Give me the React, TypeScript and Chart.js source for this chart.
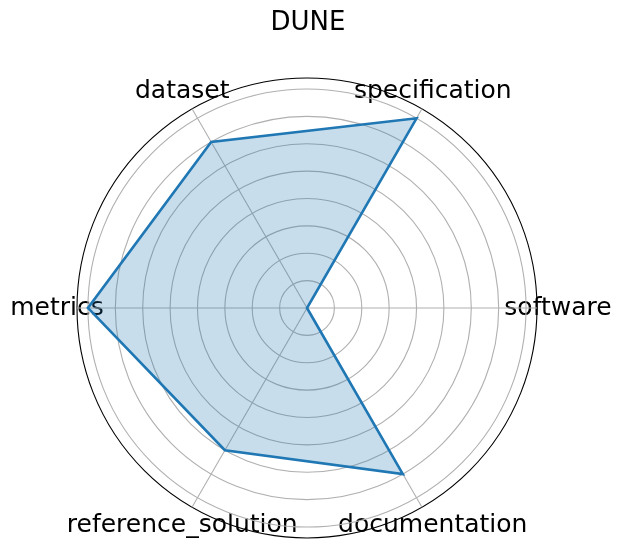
import React, { useEffect, useRef } from "react";
import { Chart, registerables } from "chart.js";

Chart.register(...registerables);

const TITLE = "DUNE";
// clockwise order starting from the right (matplotlib goes counter-clockwise from the right)
const categories = ["software", "documentation", "reference_solution", "metrics", "dataset", "specification"];
const values = [0, 7, 6, 8, 7, 8];
const ringValues = [0, 1, 2, 3, 4, 5, 6, 7, 8];
const R_MAX = 8.4;

const LABEL_FONT = 25;
const TITLE_FONT = 26;

const labelPlugin = {
  id: "mplLabels",
  beforeDraw(chart: any) {
    const ctx = chart.ctx;
    const scale = chart.scales.r;
    ctx.save();
    ctx.fillStyle = "#000000";
    ctx.textAlign = "center";
    ctx.textBaseline = "alphabetic";
    ctx.font = `${LABEL_FONT}px "DejaVu Sans"`;
    const labels = chart.data.labels as string[];
    labels.forEach((lab, i) => {
      const p = scale.getPointPosition(i, scale.drawingArea + 20.5);
      ctx.fillText(lab, p.x + 0.5, p.y + 0.5 + 0.26 * LABEL_FONT);
    });
    ctx.font = `${TITLE_FONT}px "DejaVu Sans"`;
    ctx.fillText(TITLE, scale.xCenter + 1, 29.5);
    ctx.restore();
  },
};

export default function App() {
  const ref = useRef<HTMLCanvasElement>(null);
  useEffect(() => {
    document.body.style.margin = "0";
    const chart = new Chart(ref.current!, {
      type: "radar",
      data: {
        labels: categories,
        datasets: [
          {
            data: values,
            borderColor: "#1f77b4",
            backgroundColor: "rgba(31,119,180,0.25)",
            borderWidth: 2.6,
            fill: true,
            pointRadius: 0,
            pointHoverRadius: 0,
            tension: 0,
          },
        ],
      },
      options: {
        responsive: false,
        animation: false,
        layout: { padding: { left: 77, top: 78, right: 83, bottom: 10 } },
        plugins: { legend: { display: false }, tooltip: { enabled: false }, title: { display: false } },
        scales: {
          r: {
            min: 0,
            max: R_MAX,
            startAngle: 90,
            afterBuildTicks: (axis: any) => {
              axis.ticks = [...ringValues, R_MAX].map((v) => ({ value: v }));
            },
            ticks: { display: false },
            pointLabels: { display: false },
            angleLines: { color: "#b0b0b0", lineWidth: 1.1 },
            grid: {
              circular: true,
              color: (c: any) => (c.tick && c.tick.value === R_MAX ? "#000000" : "#b0b0b0"),
              lineWidth: 1.1,
            },
          },
        },
      },
      plugins: [labelPlugin],
    });
    return () => chart.destroy();
  }, []);
  return (
    <div style={{ width: 621, height: 549 }}>
      <canvas ref={ref} width={621} height={549} />
    </div>
  );
}
